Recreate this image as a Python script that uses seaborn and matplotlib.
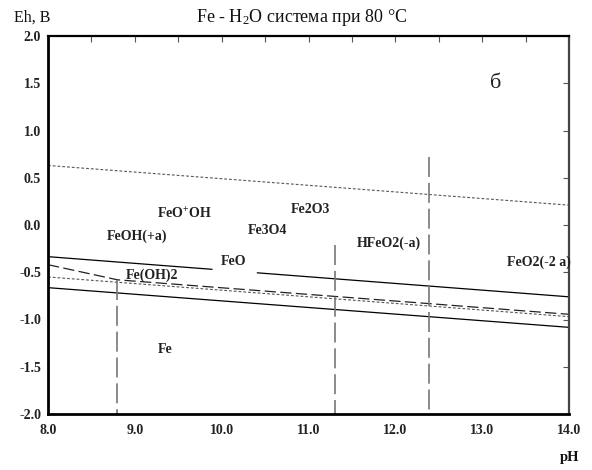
import matplotlib
matplotlib.use("Agg")
import matplotlib.pyplot as plt
import seaborn as sns
import pandas as pd

# ---- data ----
ph_ends = [8.0, 14.0]
o2_water_eh = [0.63, 0.21]          # upper dotted line
h2_water_eh = [-0.55, -0.97]        # lower dotted line
solid_upper_ph = [[8.0, 9.89], [10.41, 14.0]]
solid_upper_eh = [[-0.335, -0.469], [-0.506, -0.76]]
solid_lower_eh = [-0.663, -1.083]
dashed_ph = [8.0, 8.8, 14.0]
dashed_eh = [-0.42, -0.58, -0.945]
vert_ph = [8.8, 11.31, 12.39]
vert_top = [-0.58, -0.21, 0.72]
vert_bottom = [-2.0, -2.0, -2.0]

label_text = ["FeO$^{+}$OH", "FeOH(+a)", "Fe3O4", "Fe2O3", "FeO", "Fe(OH)2",
              "HFeO2(-a)", "FeO2(-2 a)", "Fe"]
label_ph = [9.57, 9.03, 10.53, 11.02, 10.14, 9.2, 11.93, 13.65, 9.35]
label_eh = [0.12, -0.115, -0.06, 0.16, -0.39, -0.535, -0.19, -0.39, -1.32]

x_ticks = [8.0, 9.0, 10.0, 11.0, 12.0, 13.0, 14.0]
y_ticks = [-2.0, -1.5, -1.0, -0.5, 0.0, 0.5, 1.0, 1.5, 2.0]

# ---- plot ----
sns.set_style("white")
plt.rcParams["font.family"] = ["Liberation Serif", "DejaVu Serif"]
plt.rcParams["mathtext.default"] = "regular"

fig = plt.figure(figsize=(5.92, 4.70), dpi=100)
ax = fig.add_axes([48 / 592, 1 - 414 / 470, 521 / 592, 378 / 470])

# water stability lines (dotted)
for eh in (o2_water_eh, h2_water_eh):
    sns.lineplot(x=ph_ends, y=eh, ax=ax, color="#555555", lw=0.8,
                 linestyle=(0, (2.5, 1.8)), estimator=None, sort=False)

# solid boundaries
for xs, ys in zip(solid_upper_ph, solid_upper_eh):
    sns.lineplot(x=xs, y=ys, ax=ax, color="black", lw=0.9, estimator=None, sort=False)
sns.lineplot(x=ph_ends, y=solid_lower_eh, ax=ax, color="black", lw=0.9,
             estimator=None, sort=False)

# dashed sloped boundary
sns.lineplot(x=dashed_ph, y=dashed_eh, ax=ax, color="#222222", lw=0.9,
             linestyle=(0, (9, 3.5)), estimator=None, sort=False)

# vertical dashed boundaries
for xv, yt, yb in zip(vert_ph, vert_top, vert_bottom):
    sns.lineplot(x=[xv, xv], y=[yt, yb], ax=ax, color="#777777", lw=1.2,
                 linestyle=(0, (12, 3.5)), estimator=None, sort=False)

for t, xp, yp in zip(label_text, label_ph, label_eh):
    ax.text(xp, yp, t, ha="center", va="center", fontsize=10,
            fontweight="bold", color="#222222")

ax.text(13.15, 1.5, "б", ha="center", va="center", fontsize=16, color="#222222")

ax.set_xlim(8.0, 14.0)
ax.set_ylim(-2.0, 2.0)
ax.set_xticks(x_ticks)
ax.set_xticklabels([f"{v:.1f}" for v in x_ticks])
ax.set_xticks([8.5, 9.5, 10.5, 11.5, 12.5, 13.5], minor=True)
ax.set_yticks(y_ticks)
ax.set_yticklabels([f"{v:.1f}" for v in y_ticks])
ax.tick_params(axis="both", which="both", direction="in", top=True, right=True,
               length=4, width=0.8, color="#555555", labelsize=10)
ax.tick_params(axis="x", pad=7)
ax.tick_params(axis="y", pad=5)
for lab in ax.get_xticklabels() + ax.get_yticklabels():
    lab.set_fontweight("bold")
    lab.set_color("#222222")
ax.set_xlabel("")
ax.set_ylabel("")

for side in ("left", "bottom"):
    ax.spines[side].set_linewidth(2.0)
    ax.spines[side].set_color("black")
ax.spines["top"].set_linewidth(1.6)
ax.spines["top"].set_color("black")
ax.spines["right"].set_linewidth(1.6)
ax.spines["right"].set_color("#444444")

fig.text(0.51, 1 - 18 / 470, "Fe - H$_{2}$O система при 80 °C", ha="center",
         va="center", fontsize=13, color="#111111")
fig.text(14 / 592, 1 - 18 / 470, "Eh, B", ha="left", va="center", fontsize=11.5,
         color="#111111")
fig.text(570 / 592, 1 - 457 / 470, "pH", ha="center", va="center", fontsize=10.5,
         fontweight="bold", color="#111111")

fig.savefig("out.png", dpi=100)
